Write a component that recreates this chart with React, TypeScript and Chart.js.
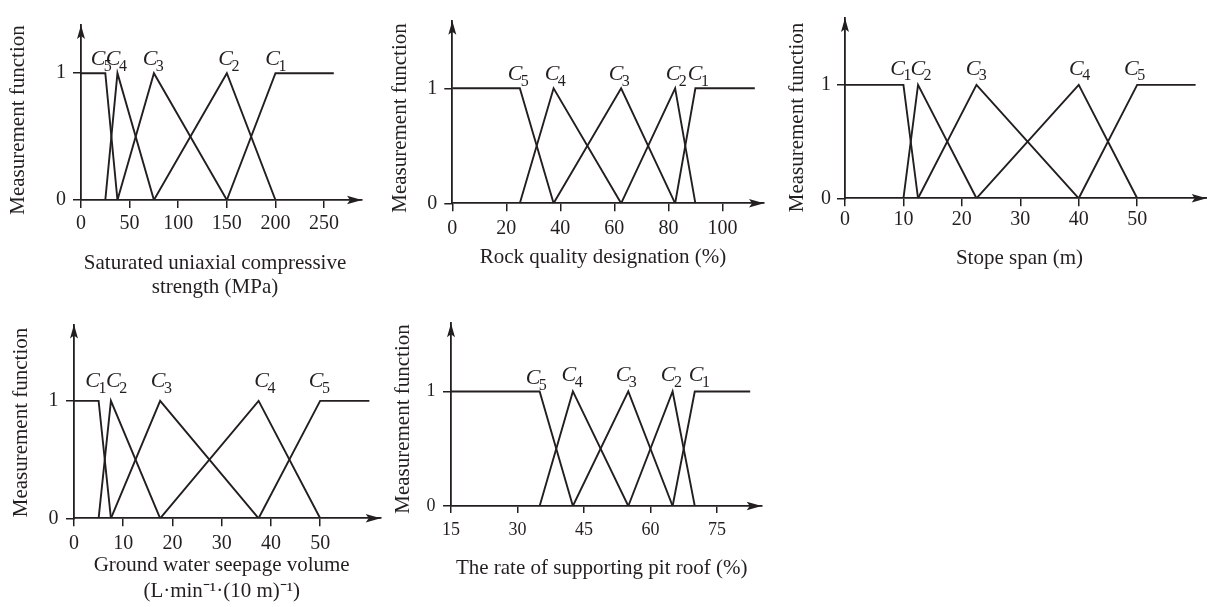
import React, { useEffect, useRef } from 'react';
import { Chart, registerables } from 'chart.js';

Chart.register(...registerables);

const FONT = "'Liberation Serif', 'Times New Roman', serif";
const INK = '#231f20';
const Y_TITLE = 'Measurement function';
const Y_TICKS = [0, 1];

// Panel 1: saturated uniaxial compressive strength
const ucsSubs = ['5', '4', '3', '2', '1'];
const ucsSeries = [
  [[0, 1], [25, 1], [37.5, 0]],
  [[25, 0], [37.5, 1], [75, 0]],
  [[37.5, 0], [75, 1], [150, 0]],
  [[75, 0], [150, 1], [200, 0]],
  [[150, 0], [200, 1], [260, 1]],
];
const ucsLabelX = [17.5, 33, 71, 148.7, 197];
const ucsLabelY = [1.063, 1.063, 1.063, 1.063, 1.063];
const ucsTicks = [0, 50, 100, 150, 200, 250];
const ucsTitle = ['Saturated uniaxial compressive', 'strength (MPa)'];

// Panel 2: rock quality designation
const rqdSubs = ['5', '4', '3', '2', '1'];
const rqdSeries = [
  [[0, 1], [25, 1], [37.5, 0]],
  [[25, 0], [37.5, 1], [62.5, 0]],
  [[37.5, 0], [62.5, 1], [82.5, 0]],
  [[62.5, 0], [82.5, 1], [90, 0]],
  [[82.5, 0], [90, 1], [112, 1]],
];
const rqdLabelX = [23.2, 36.9, 60.6, 81.7, 89.9];
const rqdLabelY = [1.072, 1.072, 1.072, 1.072, 1.072];
const rqdTicks = [0, 20, 40, 60, 80, 100];
const rqdTitle = ['Rock quality designation (%)'];

// Panel 3: stope span
const spanSubs = ['1', '2', '3', '4', '5'];
const spanSeries = [
  [[0, 1], [10, 1], [12.5, 0]],
  [[10, 0], [12.5, 1], [22.5, 0]],
  [[12.5, 0], [22.5, 1], [40, 0]],
  [[22.5, 0], [40, 1], [50, 0]],
  [[40, 0], [50, 1], [60, 1]],
];
const spanLabelX = [9.0, 12.45, 21.9, 39.6, 49];
const spanLabelY = [1.091, 1.091, 1.091, 1.091, 1.091];
const spanTicks = [0, 10, 20, 30, 40, 50];
const spanTitle = ['Stope span (m)'];

// Panel 4: ground water seepage volume
const waterSubs = ['1', '2', '3', '4', '5'];
const waterSeries = [
  [[0, 1], [5, 1], [7.5, 0]],
  [[5, 0], [7.5, 1], [17.5, 0]],
  [[7.5, 0], [17.5, 1], [37.5, 0]],
  [[17.5, 0], [37.5, 1], [50, 0]],
  [[37.5, 0], [50, 1], [60, 1]],
];
const waterLabelX = [3.8, 8.0, 17.1, 38.1, 49.2];
const waterLabelY = [1.119, 1.119, 1.119, 1.119, 1.119];
const waterTicks = [0, 10, 20, 30, 40, 50];
const waterTitle = ['Ground water seepage volume', '(L\u00B7min\u207B\u00B9\u00B7(10 m)\u207B\u00B9)'];

// Panel 5: rate of supporting pit roof
const roofSubs = ['5', '4', '3', '2', '1'];
const roofSeries = [
  [[15, 1], [35, 1], [42.5, 0]],
  [[35, 0], [42.5, 1], [55, 0]],
  [[42.5, 0], [55, 1], [65, 0]],
  [[55, 0], [65, 1], [70, 0]],
  [[65, 0], [70, 1], [82.5, 1]],
];
const roofLabelX = [33.5, 41.6, 53.8, 64.0, 70.3];
const roofLabelY = [1.065, 1.09, 1.09, 1.09, 1.09];
const roofTicks = [15, 30, 45, 60, 75];
const roofTitle = ['The rate of supporting pit roof (%)'];

type Panel = {
  key: string;
  subs: string[];
  series: number[][][];
  labelX: number[];
  labelY: number[];
  ticks: number[];
  title: string[];
  xMin: number;
  xMax: number;
  yMax: number;
  box: { left: number; top: number; w: number; h: number };
  yW: number;
  xH: number;
  pt: number;
  pr: number;
  yTitleAt: [number, number];
  xTitleAt: [number, number];
  xTitleGap: number;
  xTickPad: number;
  yTickPad: number;
  tickLen: number;
  tickSize: number;
};

const panels: Panel[] = [
  {
    key: 'ucs', subs: ucsSubs, series: ucsSeries, labelX: ucsLabelX, labelY: ucsLabelY,
    ticks: ucsTicks, title: ucsTitle, xMin: 0, xMax: 289, yMax: 1.38,
    box: { left: 0, top: 0, w: 368, h: 302 }, yW: 81, xH: 102, pt: 25, pr: 6,
    yTitleAt: [18, 120], xTitleAt: [215, 263], xTitleGap: 24,
    xTickPad: 3.3, yTickPad: 7, tickLen: 8, tickSize: 20,
  },
  {
    key: 'rqd', subs: rqdSubs, series: rqdSeries, labelX: rqdLabelX, labelY: rqdLabelY,
    ticks: rqdTicks, title: rqdTitle, xMin: 0, xMax: 115.4, yMax: 1.588,
    box: { left: 380, top: 0, w: 390, h: 275 }, yW: 72.3, xH: 71.7, pt: 20.7, pr: 6,
    yTitleAt: [400, 118], xTitleAt: [603, 257], xTitleGap: 24,
    xTickPad: 5, yTickPad: 7, tickLen: 8, tickSize: 20,
  },
  {
    key: 'span', subs: spanSubs, series: spanSeries, labelX: spanLabelX, labelY: spanLabelY,
    ticks: spanTicks, title: spanTitle, xMin: 0, xMax: 61.9, yMax: 1.589,
    box: { left: 775, top: 0, w: 432, h: 276 }, yW: 70, xH: 77.7, pt: 6.7, pr: 0.3,
    yTitleAt: [797, 117.5], xTitleAt: [1019.5, 258], xTitleGap: 24,
    xTickPad: 1.7, yTickPad: 6, tickLen: 8, tickSize: 20,
  },
  {
    key: 'water', subs: waterSubs, series: waterSeries, labelX: waterLabelX, labelY: waterLabelY,
    ticks: waterTicks, title: waterTitle, xMin: 0, xMax: 62.3, yMax: 1.65,
    box: { left: 0, top: 305, w: 387, h: 302 }, yW: 74, xH: 88.7, pt: 14.3, pr: 6.3,
    yTitleAt: [21.7, 422.5], xTitleAt: [221.7, 565], xTitleGap: 26,
    xTickPad: 5, yTickPad: 7.5, tickLen: 8, tickSize: 20,
  },
  {
    key: 'roof', subs: roofSubs, series: roofSeries, labelX: roofLabelX, labelY: roofLabelY,
    ticks: roofTicks, title: roofTitle, xMin: 15, xMax: 85.1, yMax: 1.595,
    box: { left: 385, top: 305, w: 383, h: 295 }, yW: 66, xH: 94, pt: 12.3, pr: 6.3,
    yTitleAt: [403, 419], xTitleAt: [601.7, 568], xTitleGap: 24,
    xTickPad: 6.7, yTickPad: 7.5, tickLen: 7, tickSize: 18,
  },
];

const arrowPlugin = {
  id: 'axisArrows',
  afterDraw(chart: any) {
    const { ctx, chartArea } = chart;
    const { left, right, top, bottom } = chartArea;
    ctx.save();
    ctx.fillStyle = INK;
    ctx.beginPath();
    ctx.moveTo(right, bottom);
    ctx.lineTo(right - 15, bottom - 4.2);
    ctx.lineTo(right - 12, bottom);
    ctx.lineTo(right - 15, bottom + 4.2);
    ctx.closePath();
    ctx.fill();
    ctx.beginPath();
    ctx.moveTo(left, top);
    ctx.lineTo(left - 4, top + 14);
    ctx.lineTo(left, top + 11);
    ctx.lineTo(left + 4, top + 14);
    ctx.closePath();
    ctx.fill();
    ctx.restore();
  },
};

const titlePlugin = {
  id: 'axisTitles',
  afterDraw(chart: any, _args: any, opts: any) {
    const { ctx } = chart;
    ctx.save();
    ctx.fillStyle = INK;
    ctx.font = `21px ${FONT}`;
    ctx.textAlign = 'center';
    ctx.textBaseline = 'middle';
    // y title (rotated)
    ctx.save();
    ctx.translate(opts.yAt[0], opts.yAt[1]);
    ctx.rotate(-Math.PI / 2);
    ctx.fillText(opts.yText, 0, 0);
    ctx.restore();
    // x title lines
    (opts.xText as string[]).forEach((line, i) => {
      ctx.fillText(line, opts.xAt[0], opts.xAt[1] + i * opts.gap);
    });
    ctx.restore();
  },
};

const labelPlugin = {
  id: 'gradeLabels',
  afterDatasetsDraw(chart: any, _args: any, opts: any) {
    const { ctx } = chart;
    const xs = chart.scales.x;
    const ys = chart.scales.y;
    const subs: string[] = opts.subs || [];
    ctx.save();
    ctx.fillStyle = INK;
    ctx.textBaseline = 'alphabetic';
    ctx.textAlign = 'left';
    subs.forEach((sub, i) => {
      const px = xs.getPixelForValue(opts.labelX[i]);
      const py = ys.getPixelForValue(opts.labelY[i]);
      ctx.font = `italic 22px ${FONT}`;
      const w = ctx.measureText('C').width;
      ctx.fillText('C', px - w / 2, py);
      ctx.font = `16px ${FONT}`;
      ctx.fillText(sub, px + w / 2 - 1.5, py + 5.7);
    });
    ctx.restore();
  },
};

function PanelChart({ p }: { p: Panel }) {
  const ref = useRef<HTMLCanvasElement | null>(null);
  useEffect(() => {
    if (!ref.current) return;
    const chart = new Chart(ref.current, {
      type: 'line',
      data: {
        datasets: p.series.map((pts, i) => ({
          label: 'C' + p.subs[i],
          data: pts.map(([x, y]) => ({ x, y })),
          borderColor: INK,
          borderWidth: 1.9,
          pointRadius: 0,
          fill: false,
          tension: 0,
        })),
      },
      options: {
        animation: false,
        responsive: false,
        maintainAspectRatio: false,
        events: [],
        layout: { padding: { top: p.pt, right: p.pr, left: 0, bottom: 0 } },
        plugins: {
          legend: { display: false },
          tooltip: { enabled: false },
          gradeLabels: { subs: p.subs, labelX: p.labelX, labelY: p.labelY },
          axisTitles: {
            yText: Y_TITLE,
            yAt: [p.yTitleAt[0] - p.box.left, p.yTitleAt[1] - p.box.top],
            xText: p.title,
            xAt: [p.xTitleAt[0] - p.box.left, p.xTitleAt[1] - p.box.top],
            gap: p.xTitleGap,
          },
        } as any,
        scales: {
          x: {
            type: 'linear',
            min: p.xMin,
            max: p.xMax,
            afterFit: (s: any) => { s.height = p.xH; },
            afterBuildTicks: (s: any) => { s.ticks = p.ticks.map((v) => ({ value: v })); },
            grid: { display: true, drawOnChartArea: false, drawTicks: true, tickLength: p.tickLen, color: INK, lineWidth: 1.5 },
            border: { display: true, color: INK, width: 1.8 },
            ticks: {
              color: INK, font: { family: FONT, size: p.tickSize }, padding: p.xTickPad,
              maxRotation: 0, autoSkip: false, callback: (v: any) => String(v),
            },
            title: { display: false },
          },
          y: {
            type: 'linear',
            min: 0,
            max: p.yMax,
            afterFit: (s: any) => { s.width = p.yW; },
            afterBuildTicks: (s: any) => { s.ticks = Y_TICKS.map((v) => ({ value: v })); },
            grid: { display: true, drawOnChartArea: false, drawTicks: true, tickLength: 8, color: INK, lineWidth: 1.5 },
            border: { display: true, color: INK, width: 1.8 },
            ticks: {
              color: INK, font: { family: FONT, size: p.tickSize }, padding: p.yTickPad,
              callback: (v: any) => String(v),
            },
            title: { display: false },
          },
        },
      } as any,
      plugins: [arrowPlugin, labelPlugin, titlePlugin],
    });
    return () => chart.destroy();
  }, [p]);
  return (
    <canvas
      ref={ref}
      width={p.box.w}
      height={p.box.h}
      style={{ position: 'absolute', left: p.box.left, top: p.box.top, width: p.box.w, height: p.box.h }}
    />
  );
}

export default function App() {
  return (
    <div style={{ position: 'fixed', left: 0, top: 0, width: 1207, height: 607, background: '#ffffff', overflow: 'hidden' }}>
      {panels.map((p) => (
        <PanelChart key={p.key} p={p} />
      ))}
    </div>
  );
}
